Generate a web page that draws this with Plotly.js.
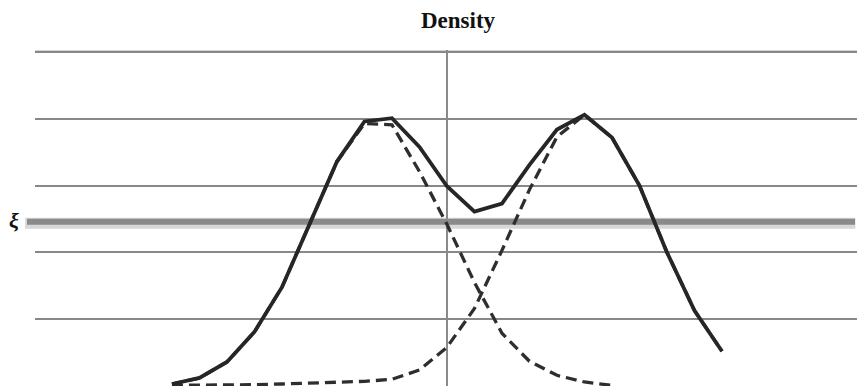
<!DOCTYPE html>
<html>
<head>
<meta charset="utf-8">
<script src="https://cdn.plot.ly/plotly-3.0.1.min.js"></script>
<style>html,body{margin:0;padding:0;background:#fff;}#chart{width:857px;height:386px;}</style>
</head>
<body>
<div id="chart"></div>
<script>
// grid positions (symmetric around the vertical reference line at 0)
const xs = [-10,-9,-8,-7,-6,-5,-4,-3,-2,-1,0,1,2,3,4,5,6,7,8,9,10];
// mixture density (solid)
const mixture = [0.03,0.12,0.36,0.81,1.48,2.42,3.36,3.96,4.01,3.58,2.99,2.61,2.73,3.31,3.84,4.06,3.72,3.00,2.00,1.13,0.52];
// left component (dashed)
const leftX = [-10,-9,-8,-7,-6,-5,-4,-3,-2,-1,0,1,2,3,4,5,6];
const leftComp = [0.03,0.12,0.36,0.81,1.48,2.42,3.36,3.93,3.91,3.21,2.42,1.55,0.79,0.37,0.16,0.06,0.01];
// right component (dashed)
const rightComp = [0.01,0.01,0.01,0.02,0.03,0.04,0.06,0.07,0.10,0.24,0.58,1.16,2.03,2.94,3.73,4.06,3.72,3.00,2.00,1.13,0.52];
// threshold level xi
const xiLevel = 2.46;
const xiLabel = 'ξ';
const titleText = 'Density';

const gridColor = '#888888';
const traces = [
  {x: leftX, y: leftComp, mode: 'lines', line: {color: '#2e2e2e', width: 3.3, dash: '11px,6px'}, hoverinfo: 'skip'},
  {x: xs, y: rightComp, mode: 'lines', line: {color: '#2e2e2e', width: 3.3, dash: '11px,6px'}, hoverinfo: 'skip'},
  {x: xs, y: mixture, mode: 'lines', line: {color: '#262626', width: 3.8}, hoverinfo: 'skip'}
];
const layout = {
  width: 857, height: 386,
  margin: {l: 35, r: 0, t: 50, b: 0},
  paper_bgcolor: '#fff', plot_bgcolor: '#fff',
  showlegend: false,
  title: {text: '<b>' + titleText + '</b>', font: {family: 'Liberation Serif, serif', size: 23, color: '#111'},
          x: 458/857, xref: 'container', xanchor: 'center', y: 1 - 20/386, yref: 'container', yanchor: 'middle'},
  xaxis: {range: [-14.98, 14.91], showgrid: false, zeroline: true, zerolinecolor: '#8a8a8a', zerolinewidth: 1.2,
          showticklabels: false, ticks: '', showline: false, fixedrange: true},
  yaxis: {range: [0, 5.03], dtick: 1, tick0: 0, showgrid: true, gridcolor: gridColor, gridwidth: 2,
          zeroline: false, showticklabels: false, ticks: '', showline: false, fixedrange: true},
  shapes: [
    {type: 'line', xref: 'paper', yref: 'y', x0: -0.012, x1: 0.998, y0: xiLevel - 0.025, y1: xiLevel - 0.025,
     line: {color: 'rgba(140,140,140,0.35)', width: 11}, layer: 'below'},
    {type: 'line', xref: 'paper', yref: 'y', x0: -0.0097, x1: 0.9976, y0: xiLevel, y1: xiLevel,
     line: {color: '#8a8a8a', width: 6}, layer: 'below'},
    {type: 'line', xref: 'paper', yref: 'y', x0: 0, x1: 1, y0: 5.03, y1: 5.03,
     line: {color: '#aaaaaa', width: 1}, layer: 'below'}
  ],
  annotations: [
    {text: '<b><i>' + xiLabel + '</i></b>', xref: 'paper', yref: 'y', x: (14 - 35) / 822, y: xiLevel + 0.02,
     showarrow: false, xanchor: 'center', yanchor: 'middle',
     font: {family: 'Liberation Serif, serif', size: 22, color: '#111'}}
  ]
};
Plotly.newPlot('chart', traces, layout, {displayModeBar: false, staticPlot: true});
</script>
</body>
</html>
